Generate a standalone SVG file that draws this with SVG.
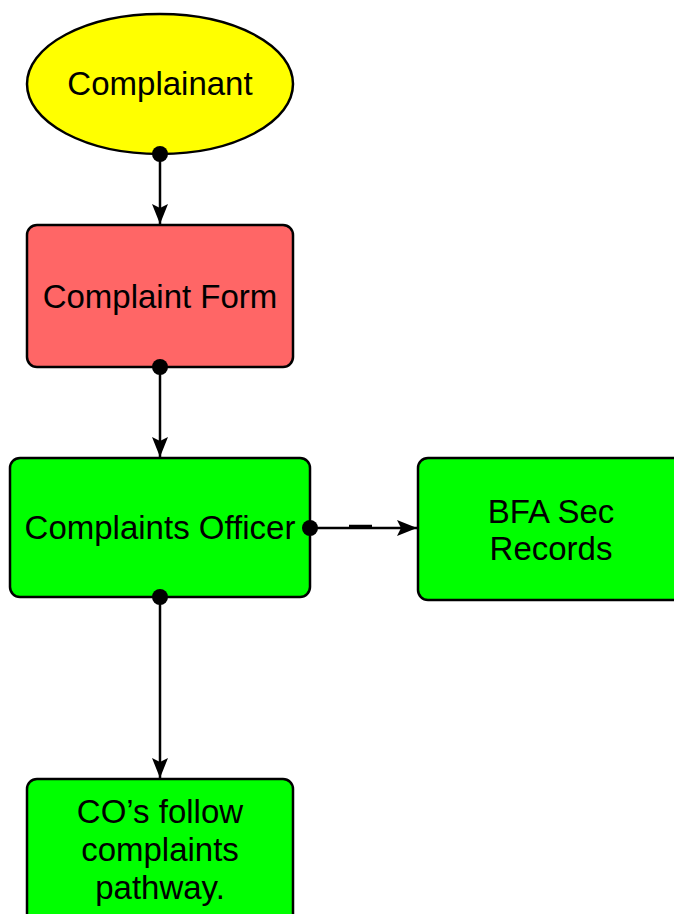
<svg xmlns="http://www.w3.org/2000/svg" width="674" height="914" viewBox="0 0 674 914">
<style>
.n{stroke:#000;stroke-width:2.5}
.t{font-family:"Liberation Sans",Arial,sans-serif;font-size:33px;fill:#000;text-anchor:middle}
.c{stroke:#000;stroke-width:2.5;fill:none}
</style>
<defs>
<marker id="arr" markerUnits="userSpaceOnUse" markerWidth="22" markerHeight="18" refX="20" refY="9" orient="auto" viewBox="0 0 22 18">
<path d="M20,9 L0,1 L4,9 L0,17 Z" fill="#000"/>
</marker>
</defs>
<rect width="674" height="914" fill="#fff"/>
<g id="complainant">
<ellipse class="n" cx="160" cy="84" rx="133" ry="70" fill="#ffff00"/>
<text class="t" x="160" y="95">Complainant</text>
</g>
<g id="complaint-form">
<rect class="n" x="27" y="225" width="266" height="142" rx="10" fill="#ff6666"/>
<text class="t" x="160" y="308">Complaint Form</text>
</g>
<g id="complaints-officer">
<rect class="n" x="10" y="458" width="300" height="139" rx="10" fill="#00ff00"/>
<text class="t" x="160" y="539">Complaints Officer</text>
</g>
<g id="bfa-sec-records">
<rect class="n" x="418" y="458" width="270" height="142" rx="10" fill="#00ff00"/>
<text class="t" x="551" y="523">BFA Sec</text>
<text class="t" x="551" y="560">Records</text>
</g>
<g id="cos-follow">
<rect class="n" x="27" y="779" width="266" height="150" rx="10" fill="#00ff00"/>
<text class="t" x="160" y="823">CO’s follow</text>
<text class="t" x="160" y="861">complaints</text>
<text class="t" x="160" y="899">pathway.</text>
</g>
<g id="connectors">
<path class="c" d="M160,154 V224" marker-end="url(#arr)"/>
<circle cx="160" cy="154" r="8"/>
<path class="c" d="M160,367 V457" marker-end="url(#arr)"/>
<circle cx="160" cy="367" r="8"/>
<path class="c" d="M310,528 H417" marker-end="url(#arr)"/>
<path class="c" d="M349,526 H372"/>
<circle cx="310" cy="528" r="8"/>
<path class="c" d="M160,597 V778" marker-end="url(#arr)"/>
<circle cx="160" cy="597" r="8"/>
</g>
</svg>
